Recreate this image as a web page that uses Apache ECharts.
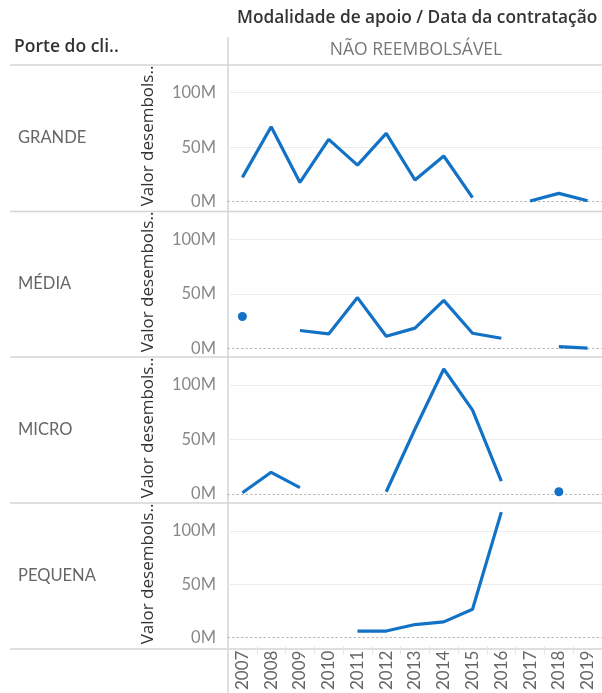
<!DOCTYPE html>
<html>
<head>
<meta charset="utf-8">
<script src="https://cdn.jsdelivr.net/npm/echarts@6/dist/echarts.min.js"></script>
<style>
    html, body { margin: 0; padding: 0; background: #fff; }
    #chart { width: 602px; height: 693px; }
</style>
</head>
<body>
<div id="chart"></div>
<script>
// anos (eixo x)
var years = ['2007', '2008', '2009', '2010', '2011', '2012', '2013', '2014', '2015', '2016', '2017', '2018', '2019']
// porte do cliente
var rows = ['GRANDE', 'MÉDIA', 'MICRO', 'PEQUENA']
// valor desembolsado, em milhões
var grande = [22.3, 68.8, 17.7, 57.2, 33.6, 62.7, 19.9, 41.9, 3.7, null, 0.6, 7.6, 0.9]
var media = [29.2, null, 16.3, 13.2, 46.5, 11, 18.5, 44, 13.8, 9.2, null, 1.5, 0.2]
var micro = [1.2, 19.9, 5.8, null, null, 2.1, 59.6, 114.7, 77, 11.9, null, 2.1, null]
var pequena = [null, null, null, null, 6.1, 6.1, 12.2, 14.7, 26.6, 117.7, null, null, null]
var yTicks = [0, 50, 100]

var values = [grande, media, micro, pequena]
var font = 'Lato'
var font2 = '"Open Sans"'
var blue = '#1272c6'
var border = '#d4d4d4'

// layout
var plotLeft = 228
var top100 = [92.7, 239.3, 385, 531]
var plotH = 109
var seps = [65, 211.5, 357, 503, 649]
var rowMid = [138, 284, 430, 576]

var grids = []
var xAxes = []
var yAxes = []
var series = []
var graphics = []

values.forEach(function (data, i) {
    grids.push({left: plotLeft, right: 0, top: top100[i], height: plotH})
    xAxes.push({
        type: 'category',
        gridIndex: i,
        data: years,
        boundaryGap: true,
        axisLine: {lineStyle: {color: '#b5b5b5', type: [1.5, 3], width: 1}},
        axisTick: {show: false},
        axisLabel: {show: false}
    })
    yAxes.push({
        type: 'value',
        gridIndex: i,
        min: yTicks[0],
        max: yTicks[yTicks.length - 1],
        interval: 50,
        axisLine: {show: false},
        axisTick: {show: false},
        axisLabel: {
            color: '#888',
            fontFamily: font,
            fontSize: 16.5,
            margin: 12,
            formatter: function (v) { return v + 'M' }
        },
        splitLine: {showMinLine: false, lineStyle: {color: '#ececec', width: 1}}
    })
    series.push({
        type: 'line',
        xAxisIndex: i,
        yAxisIndex: i,
        data: data,
        clip: false,
        showSymbol: false,
        connectNulls: false,
        lineStyle: {color: blue, width: 3.2},
        itemStyle: {color: blue}
    })
    // pontos isolados (sem vizinhos) aparecem como marcadores
    var single = data.map(function (v, k) {
        var prev = k > 0 ? data[k - 1] : null
        var next = k < data.length - 1 ? data[k + 1] : null
        return (v != null && prev == null && next == null) ? v : null
    })
    series.push({
        type: 'scatter',
        xAxisIndex: i,
        yAxisIndex: i,
        data: single,
        symbolSize: 9,
        itemStyle: {color: blue, opacity: 1}
    })

    graphics.push({
        type: 'text',
        left: 18,
        top: rowMid[i] - 9,
        style: {text: rows[i], fill: '#666', font: '16.5px ' + font}
    })
    graphics.push({
        type: 'text',
        x: 148,
        y: rowMid[i] - 2,
        rotation: Math.PI / 2,
        style: {
            text: 'Valor desembols..',
            fill: '#333',
            font: '17px ' + font2,
            align: 'center',
            verticalAlign: 'middle'
        }
    })
})

// eixo dos anos, abaixo do último painel
xAxes.push({
    type: 'category',
    gridIndex: 3,
    data: years,
    position: 'bottom',
    offset: 9,
    boundaryGap: true,
    axisLine: {show: false},
    axisTick: {show: true, length: 8, lineStyle: {color: '#e4e4e4'}},
    axisLabel: {
        interval: 0,
        rotate: 90,
        margin: 4,
        color: '#666',
        fontFamily: font,
        fontSize: 17
    }
})

seps.forEach(function (y) {
    graphics.push({
        type: 'line',
        shape: {x1: 10, y1: y, x2: 602, y2: y},
        style: {stroke: border, lineWidth: 1.5}
    })
})
graphics.push({
    type: 'line',
    shape: {x1: plotLeft, y1: 37, x2: plotLeft, y2: 693},
    style: {stroke: border, lineWidth: 1.5}
})
graphics.push({
    type: 'text',
    left: 237,
    top: 10,
    style: {text: 'Modalidade de apoio / Data da contratação', fill: '#333', font: '600 17.3px ' + font2}
})
graphics.push({
    type: 'text',
    left: 14,
    top: 38,
    style: {text: 'Porte do cli..', fill: '#333', font: '600 17.5px ' + font2}
})
graphics.push({
    type: 'text',
    x: 416,
    y: 50,
    style: {text: 'NÃO REEMBOLSÁVEL', fill: '#777', font: '17.5px ' + font2, align: 'center', verticalAlign: 'middle'}
})

var option = {
    animation: false,
    grid: grids,
    xAxis: xAxes,
    yAxis: yAxes,
    series: series,
    graphic: graphics
}

var myChart = echarts.init(document.getElementById('chart'))
myChart.setOption(option)
</script>
</body>
</html>
